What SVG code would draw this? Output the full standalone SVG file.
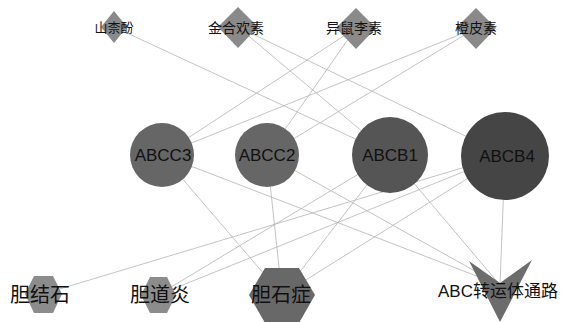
<svg xmlns="http://www.w3.org/2000/svg" width="561" height="322" viewBox="0 0 561 322">
  <style>
    .edge { stroke: #b4b4b4; stroke-width: 0.8; fill: none; }
    .compound { fill: #8a8a8a; }
    .disease { fill: #8c8c8c; }
    .cjk { font-family: "Noto Sans CJK SC", "Noto Sans", sans-serif; fill: #111; text-anchor: middle; }
    .gene { font-family: "Liberation Sans", Arial, sans-serif; fill: #111; text-anchor: middle; font-size: 17px; }
    .mix { font-family: "Liberation Sans", "Noto Sans CJK SC", sans-serif; fill: #111; text-anchor: middle; }
  </style>
  <rect width="561" height="322" fill="#ffffff"/>

  <g id="edges">
    <!-- compounds to transporters -->
    <line class="edge" x1="114" y1="27" x2="390" y2="155"/>
    <line class="edge" x1="238" y1="27" x2="390" y2="155"/>
    <line class="edge" x1="238" y1="27" x2="505" y2="155"/>
    <line class="edge" x1="356" y1="28" x2="162" y2="155"/>
    <line class="edge" x1="356" y1="28" x2="267" y2="155"/>
    <line class="edge" x1="476" y1="28" x2="162" y2="155"/>
    <line class="edge" x1="476" y1="28" x2="267" y2="155"/>
    <!-- transporters to diseases / pathway -->
    <line class="edge" x1="162" y1="155" x2="282" y2="295"/>
    <line class="edge" x1="162" y1="155" x2="500" y2="285"/>
    <line class="edge" x1="267" y1="155" x2="282" y2="295"/>
    <line class="edge" x1="267" y1="155" x2="500" y2="285"/>
    <line class="edge" x1="390" y1="155" x2="158" y2="295"/>
    <line class="edge" x1="390" y1="155" x2="282" y2="295"/>
    <line class="edge" x1="390" y1="155" x2="500" y2="285"/>
    <line class="edge" x1="505" y1="155" x2="43" y2="294"/>
    <line class="edge" x1="505" y1="155" x2="158" y2="295"/>
    <line class="edge" x1="505" y1="155" x2="282" y2="295"/>
    <line class="edge" x1="505" y1="155" x2="500" y2="285"/>
  </g>

  <g id="shannaifen">
    <polygon class="compound" points="114,11 127,27 114,43 101,27"/>
    <text class="cjk" x="114" y="32" font-size="13">山柰酚</text>
  </g>
  <g id="jinhehuansu">
    <polygon class="compound" points="238,7 258,27 238,48 218,27"/>
    <text class="cjk" x="236" y="33" font-size="14">金合欢素</text>
  </g>
  <g id="yishulisu">
    <polygon class="compound" points="356,8 376,28 356,49 336,28"/>
    <text class="cjk" x="354" y="33" font-size="14">异鼠李素</text>
  </g>
  <g id="chengpisu">
    <polygon class="compound" points="476,8 496,28 476,49 456,28"/>
    <text class="cjk" x="476" y="33" font-size="14">橙皮素</text>
  </g>

  <g id="ABCC3">
    <circle cx="162" cy="155" r="32" fill="#666666"/>
    <text class="gene" x="163" y="161">ABCC3</text>
  </g>
  <g id="ABCC2">
    <circle cx="267" cy="155" r="32" fill="#666666"/>
    <text class="gene" x="267" y="161">ABCC2</text>
  </g>
  <g id="ABCB1">
    <circle cx="390" cy="155" r="38" fill="#555555"/>
    <text class="gene" x="390" y="161">ABCB1</text>
  </g>
  <g id="ABCB4">
    <circle cx="505" cy="156" r="44" fill="#454545"/>
    <text class="gene" x="507" y="162" font-size="18.5">ABCB4</text>
  </g>

  <g id="danjieshi">
    <polygon class="disease" points="25,294 34,276 53,276 62,294 53,313 34,313"/>
    <text class="cjk" x="40" y="302" font-size="20">胆结石</text>
  </g>
  <g id="dandaoyan">
    <polygon class="disease" points="141,295 150,277 167,277 176,295 167,313 150,313"/>
    <text class="cjk" x="160" y="302" font-size="20">胆道炎</text>
  </g>
  <g id="danshizheng">
    <polygon fill="#686868" points="249,295 265,268 299,268 315,295 299,323 265,323"/>
    <text class="cjk" x="281" y="302" font-size="20">胆石症</text>
  </g>
  <g id="abc-pathway">
    <polygon fill="#6c6c6c" points="469,261 500,283 532,260 500,322"/>
    <text class="mix" x="498" y="297" font-size="17">ABC转运体通路</text>
  </g>
</svg>
